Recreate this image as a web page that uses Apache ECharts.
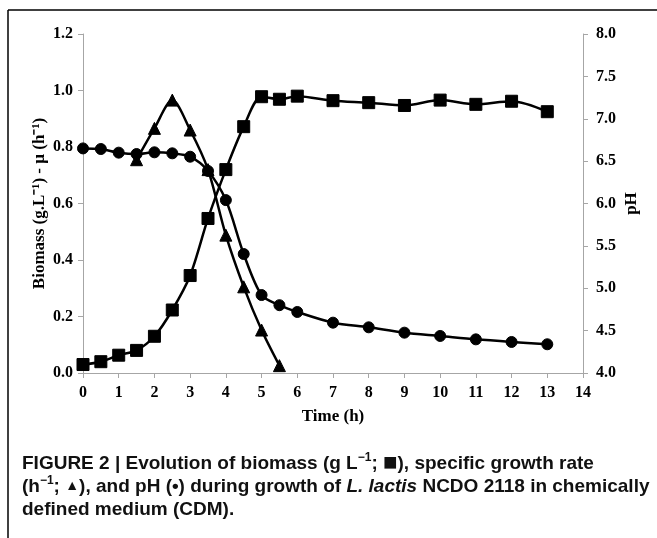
<!DOCTYPE html>
<html>
<head>
<meta charset="utf-8">
<script src="https://cdn.jsdelivr.net/npm/echarts@6/dist/echarts.min.js"></script>
<style>
  html, body { margin: 0; padding: 0; background: #fff; }
  #chart { width: 657px; height: 538px; }
</style>
</head>
<body>
<div id="chart"></div>
<script>
// time points (h)
const times = [0, 0.5, 1, 1.5, 2, 2.5, 3, 3.5, 4, 4.5, 5, 5.5, 6, 7, 8, 9, 10, 11, 12, 13];
const biomass = [0.03, 0.04, 0.063, 0.08, 0.13, 0.223, 0.345, 0.547, 0.72, 0.872, 0.978, 0.969, 0.98, 0.964, 0.957, 0.947, 0.966, 0.951, 0.962, 0.925];
const ph = [6.65, 6.643, 6.6, 6.584, 6.604, 6.592, 6.552, 6.384, 6.04, 5.404, 4.92, 4.8, 4.72, 4.594, 4.539, 4.476, 4.437, 4.397, 4.366, 4.339];

const muTimes = [1.5, 2, 2.5, 3, 3.5, 4, 4.5, 5, 5.5];
const mu = [0.755, 0.866, 0.966, 0.86, 0.72, 0.488, 0.305, 0.152, 0.026];

const serif = '"Liberation Serif", "Times New Roman", serif';
const sans = '"Liberation Sans", Arial, sans-serif';

function pairs(xs, ys) {
  return xs.map((x, i) => [x, ys[i]]);
}

const chart = echarts.init(document.getElementById('chart'), null, { renderer: 'canvas' });

const axisLabel = { color: '#000', fontFamily: serif, fontWeight: 'bold', fontSize: 16 };
const axisLine = { show: true, lineStyle: { color: '#a6a6a6', width: 1 } };
const axisTick = { show: true, length: 5, lineStyle: { color: '#a6a6a6' } };
const nameStyle = { color: '#000', fontFamily: serif, fontWeight: 'bold', fontSize: 17 };

const lineSeries = (name, data, symbol, size, yIndex) => ({
  name: name,
  type: 'line',
  data: data,
  yAxisIndex: yIndex,
  smooth: 0.3,
  symbol: symbol,
  symbolSize: size,
  showAllSymbol: true,
  lineStyle: { color: '#000', width: 2.5 },
  itemStyle: { color: '#000', borderColor: '#000' },
  animation: false
});

chart.setOption({
  backgroundColor: '#fff',
  animation: false,
  grid: { left: 83, right: 74, top: 34, bottom: 165 },
  title: {
    left: 22,
    top: 452,
    padding: 0,
    text: 'FIGURE 2 | Evolution of biomass (g L{sup|−1}; {sq|\u25A0}), specific growth rate\n(h{sup|−1}; {tri|\u25B2}), and pH (\u2022) during growth of {i|L. lactis} NCDO 2118 in chemically\ndefined medium (CDM).',
    textStyle: {
      color: '#111',
      fontFamily: sans,
      fontWeight: 'bold',
      fontSize: 19,
      lineHeight: 23,
      rich: {
        sup: { fontSize: 12, fontWeight: 'bold', fontFamily: sans, color: '#111', verticalAlign: 'top', lineHeight: 16 },
        sq: { fontSize: 24, fontFamily: sans, color: '#111', lineHeight: 23 },
        tri: { fontSize: 14, fontFamily: sans, color: '#111', lineHeight: 23 },
        i: { fontStyle: 'italic', fontWeight: 'bold', fontSize: 19, fontFamily: sans, color: '#111' }
      }
    }
  },
  graphic: [
    { type: 'line', shape: { x1: 8, y1: 10, x2: 657, y2: 10 }, style: { stroke: '#000', lineWidth: 1.5 } },
    { type: 'line', shape: { x1: 8, y1: 10, x2: 8, y2: 538 }, style: { stroke: '#000', lineWidth: 1.5 } }
  ],
  xAxis: {
    type: 'value',
    min: 0,
    max: 14,
    interval: 1,
    name: 'Time (h)',
    nameLocation: 'middle',
    nameGap: 35,
    nameMoveOverlap: false,
    nameTextStyle: nameStyle,
    axisLine: axisLine,
    axisTick: axisTick,
    axisLabel: Object.assign({ margin: 12 }, axisLabel),
    splitLine: { show: false }
  },
  yAxis: [
    {
      type: 'value',
      min: 0,
      max: 1.2,
      interval: 0.2,
      position: 'left',
      name: 'Biomass (g.L\u207B\u00B9) - \u00B5 (h\u207B\u00B9)',
      nameLocation: 'middle',
      nameRotate: 90,
      nameGap: 35,
      nameMoveOverlap: false,
      nameTextStyle: nameStyle,
      axisLine: axisLine,
      axisTick: axisTick,
      axisLabel: Object.assign({ margin: 10, formatter: v => v.toFixed(1) }, axisLabel),
      splitLine: { show: false }
    },
    {
      type: 'value',
      min: 4,
      max: 8,
      interval: 0.5,
      position: 'right',
      name: 'pH',
      nameLocation: 'middle',
      nameRotate: 90,
      nameGap: 40,
      nameMoveOverlap: false,
      nameTextStyle: nameStyle,
      axisLine: axisLine,
      axisTick: axisTick,
      axisLabel: Object.assign({ margin: 13, formatter: v => v.toFixed(1) }, axisLabel),
      splitLine: { show: false }
    }
  ],
  series: [
    lineSeries('Biomass', pairs(times, biomass), 'rect', 12, 0),
    lineSeries('Specific growth rate', pairs(muTimes, mu), 'triangle', 12, 0),
    lineSeries('pH', pairs(times, ph), 'circle', 11, 1)
  ]
});

window.addEventListener('resize', () => chart.resize());
</script>
</body>
</html>
